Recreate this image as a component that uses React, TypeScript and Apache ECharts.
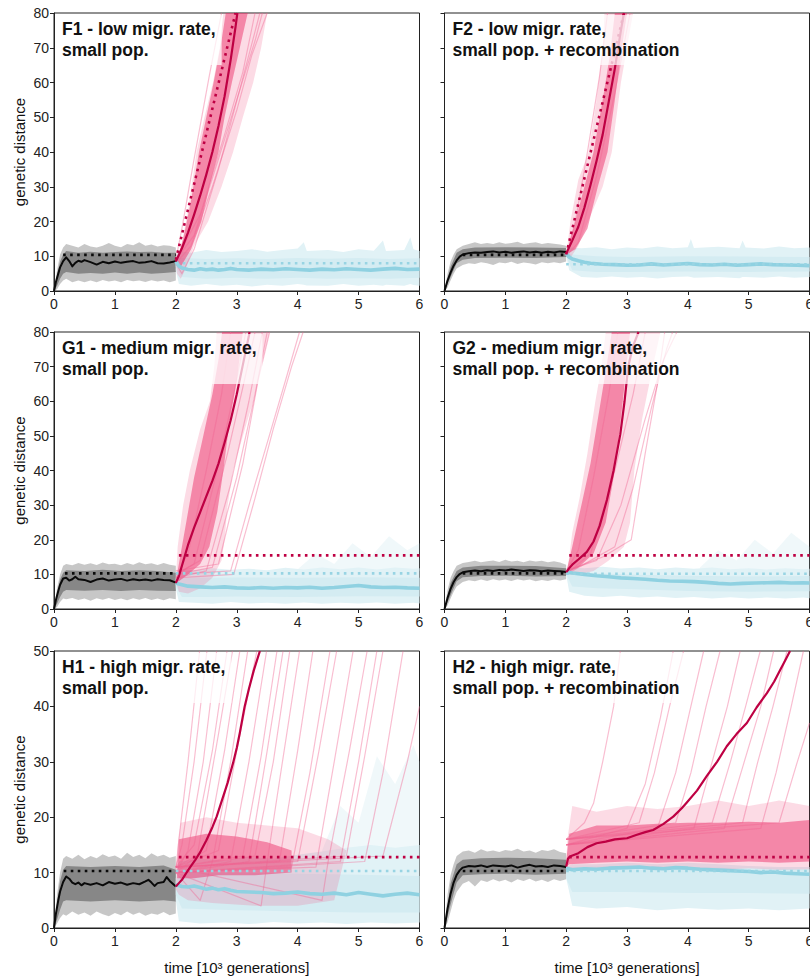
import { useEffect, useRef } from "react";
import * as echarts from "echarts";

type Pt = [number, number];
type Band = [number, number, number][];

// ---------------- F1 ----------------
const F1_title = "F1 - low migr. rate,\nsmall pop.";
const F1_blackMean: Pt[] = [[0,0],[0.03,2.5],[0.07,5],[0.1,6.8],[0.15,8.6],[0.2,9.7],[0.25,8.6],[0.3,7.1],[0.35,8.1],[0.4,8.7],[0.45,8.4],[0.5,8.9],[0.6,8.3],[0.7,7.6],[0.8,8.4],[0.9,8.0],[1.0,8.5],[1.1,8.1],[1.2,8.4],[1.3,8.6],[1.4,8.1],[1.5,8.3],[1.6,8.6],[1.7,8.0],[1.8,7.9],[1.9,8.2],[2.0,8.6]];
const F1_blackRef: Pt[] = [[0.15,10.4],[2,10.4]];
const F1_greyOuter: Band = [[0,0,0],[0.05,0.5,6],[0.1,2,10.5],[0.15,3,12.5],[0.2,3.5,13.5],[0.3,2.5,13],[0.4,3,12.5],[0.5,2.5,13.5],[0.6,3,12.8],[0.7,2.5,12.5],[0.8,3.2,13],[0.9,2.7,13.8],[1.0,3,13],[1.1,2.5,12.6],[1.2,3.2,13.5],[1.3,2.8,13.2],[1.4,3,14],[1.5,2.6,13],[1.6,3.1,13.4],[1.7,2.7,12.8],[1.8,3,13.2],[1.9,2.5,13],[2.0,3,12.5]];
const F1_greyInner: Band = [[0,0,0],[0.05,1.5,4.5],[0.1,3.5,8.5],[0.15,5,10.5],[0.2,5.5,11.5],[0.4,5,11],[0.6,5.2,11.3],[0.8,5,11],[1.0,5.3,11.2],[1.2,5,11.4],[1.4,5.3,11.2],[1.6,5,11.3],[1.8,5.2,11],[2.0,5.5,11]];
const F1_blueFaint: Band = [];
const F1_blueOuter: Band = [[2.0,6,10],[2.05,2,11.5],[2.25,1.5,11],[2.5,2,11.8],[2.75,1.5,11.2],[3.0,1.8,11.5],[3.25,1.3,12],[3.5,1.8,11.3],[3.75,1.5,11.8],[4.0,2,12.2],[4.1,1.8,14],[4.15,1.6,11.5],[4.5,1.5,11.8],[4.75,2,11.2],[5.0,1.5,12],[5.25,1.8,11.6],[5.4,1.5,14.5],[5.45,1.8,11.5],[5.75,1.5,11.8],[5.85,2,15.5],[5.9,1.7,12],[6.0,1.5,11.5]];
const F1_blueInner: Band = [[2.0,7,9.5],[2.1,4,9.5],[2.5,3.5,9.2],[3,3.8,9.4],[3.5,3.5,9.2],[4,3.8,9.5],[4.5,3.5,9.3],[5,3.7,9.5],[5.5,3.5,9.2],[6,3.8,9.4]];
const F1_cyanMean: Pt[] = [[2.0,8.5],[2.05,7.2],[2.1,6.6],[2.2,6.2],[2.3,6.0],[2.4,6.4],[2.5,6.1],[2.6,6.3],[2.7,6.0],[2.8,6.2],[2.9,6.5],[3.0,6.2],[3.2,6.0],[3.4,6.3],[3.6,6.1],[3.8,6.4],[4.0,6.2],[4.2,6.0],[4.4,6.3],[4.6,6.1],[4.8,6.4],[5.0,6.2],[5.2,6.0],[5.4,6.3],[5.6,6.5],[5.8,6.2],[6.0,6.3]];
const F1_blueRef: Pt[] = [[2.0,8],[6,8]];
const F1_pinkOuter: Pt[] = [[2.0,8],[2.1,14],[2.2,23],[2.34,40],[2.47,50],[2.61,60],[2.72,70],[2.78,80],[3.5,80],[3.4,70],[3.27,60],[3.1,50],[2.94,40],[2.75,30],[2.53,20],[2.3,13],[2.15,6],[2.08,3.5],[2.02,5]];
const F1_pinkCore: Pt[] = [[2.0,8],[2.12,15],[2.24,25],[2.38,40],[2.5,50],[2.62,60],[2.75,72],[2.82,80],[3.18,80],[3.05,70],[2.92,60],[2.8,50],[2.7,40],[2.55,30],[2.42,20],[2.25,12],[2.08,7]];
const F1_pinkTraces: Pt[][] = [
  [[2.0,9],[2.3,16],[2.7,38],[3.0,55],[3.3,72],[3.42,80]],
  [[2.0,8],[2.25,13],[2.6,30],[3.0,52],[3.25,68],[3.5,80]],
  [[2.0,9],[2.4,22],[2.8,45],[3.1,63],[3.3,80]],
  [[2.0,8],[2.1,5],[2.3,12],[2.7,35],[3.05,58],[3.38,80]],
  [[2.0,9],[2.1,18],[2.3,38],[2.55,62],[2.75,80]],
];
const F1_crimsonMean: Pt[] = [[2.0,8.5],[2.1,12.3],[2.2,16.8],[2.3,22],[2.4,27.5],[2.5,33.5],[2.6,40],[2.7,47.5],[2.8,56],[2.9,66.5],[2.98,76],[3.01,80]];
const F1_crimsonRef: Pt[] = [[2.0,9],[2.98,80]];

// ---------------- F2 ----------------
const F2_title = "F2 - low migr. rate,\nsmall pop. + recombination";
const F2_blackMean: Pt[] = [[0,0],[0.05,3],[0.1,5.3],[0.15,7.3],[0.2,8.8],[0.25,9.9],[0.3,10.5],[0.4,10.9],[0.5,11.1],[0.6,11.0],[0.7,11.2],[0.8,11.4],[0.9,11.1],[1.0,11.3],[1.1,11.0],[1.2,11.2],[1.3,11.4],[1.4,11.1],[1.5,11.3],[1.6,11.0],[1.7,11.3],[1.8,11.1],[1.9,11.4],[2.0,11.2]];
const F2_blackRef: Pt[] = [[0.3,10.4],[2,10.4]];
const F2_greyOuter: Band = [[0,0,0],[0.05,1,5],[0.1,3,8.5],[0.15,5,10.5],[0.2,6.5,12],[0.3,7.5,13],[0.4,8,13.5],[0.5,7.8,14],[0.6,8.3,13.5],[0.7,8,13.8],[0.8,7.5,13.5],[0.9,8.2,14],[1.0,8,13.6],[1.1,8.4,13.8],[1.2,7.8,14.2],[1.3,8.2,13.5],[1.4,8,13.8],[1.5,7.6,14],[1.6,8.3,13.5],[1.7,8,13.8],[1.8,8.3,13.6],[1.9,8,13.4],[2.0,8.5,13]];
const F2_greyInner: Band = [[0,0,0],[0.1,4,7],[0.2,8,11],[0.3,9,12],[0.5,9.5,12.5],[1,9.6,12.6],[1.5,9.5,12.5],[2,9.8,12.4]];
const F2_blueFaint: Band = [];
const F2_blueOuter: Band = [[2.0,10,11],[2.05,6,12.5],[2.25,4,12.3],[2.5,3.8,12.6],[2.75,4.2,12],[3.0,3.8,12.5],[3.25,4,12.2],[3.5,3.6,12.8],[3.75,4,12.3],[4.0,4.2,12.6],[4.05,4,15],[4.1,3.8,12.4],[4.5,4,12.7],[4.85,3.7,12.3],[4.9,4,14.5],[4.95,4,12.5],[5.25,3.8,12.2],[5.5,4.2,12.8],[5.75,3.8,12.3],[6,4,12.5]];
const F2_blueInner: Band = [[2.0,10,11],[2.1,6,10.5],[2.5,5.5,10],[3,5.5,9.8],[4,5.6,10],[5,5.5,9.9],[6,5.6,9.8]];
const F2_cyanMean: Pt[] = [[2.0,10.8],[2.05,9.8],[2.1,9.2],[2.2,8.7],[2.3,8.3],[2.4,8.0],[2.6,7.7],[2.8,7.6],[3.0,7.4],[3.2,7.5],[3.4,7.8],[3.6,7.5],[3.8,7.7],[4.0,7.9],[4.2,7.6],[4.4,7.5],[4.6,7.7],[4.8,7.4],[5.0,7.6],[5.2,7.8],[5.4,7.6],[5.6,7.5],[5.8,7.4],[6.0,7.3]];
const F2_blueRef: Pt[] = [[2,7.7],[6,7.7]];
const F2_pinkOuter: Pt[] = [[2.0,10],[2.07,20],[2.2,32],[2.37,40],[2.5,55],[2.6,70],[2.63,80],[3.1,80],[3.0,70],[2.9,60],[2.75,40],[2.6,30],[2.36,20],[2.2,13],[2.05,9]];
const F2_pinkCore: Pt[] = [[2.0,10.5],[2.15,20],[2.3,30],[2.45,40],[2.6,55],[2.72,68],[2.8,80],[3.0,80],[2.9,68],[2.8,55],[2.68,40],[2.52,30],[2.35,18],[2.15,12]];
const F2_pinkTraces: Pt[][] = [
  [[2,10],[2.2,14],[2.5,33],[2.8,57],[3.05,80]],
  [[2,10],[2.15,20],[2.35,40],[2.55,62],[2.68,80]],
];
const F2_crimsonMean: Pt[] = [[2.0,10.8],[2.1,14.5],[2.2,18.5],[2.3,24],[2.4,30.5],[2.5,37.5],[2.6,45],[2.7,54.5],[2.8,64],[2.9,75],[2.95,80]];
const F2_crimsonRef: Pt[] = [[2.0,10.5],[2.95,80]];

// ---------------- G1 ----------------
const G1_title = "G1 - medium migr. rate,\nsmall pop.";
const G1_blackMean: Pt[] = [[0,0],[0.03,2.5],[0.07,5.2],[0.1,7],[0.15,8.8],[0.2,9.0],[0.25,8.2],[0.3,8.6],[0.35,9.3],[0.4,8.6],[0.5,8.4],[0.6,7.8],[0.7,8.5],[0.8,8.8],[0.9,8.2],[1.0,8.5],[1.1,8.7],[1.2,8.2],[1.3,8.6],[1.4,8.3],[1.5,8.5],[1.6,8.2],[1.7,8.6],[1.8,8.4],[1.9,8.3],[2.0,7.6]];
const G1_blackRef: Pt[] = [[0.18,10.3],[2,10.3]];
const G1_greyOuter: Band = [[0,0,0],[0.05,0.6,6],[0.1,2,10],[0.15,3,12.5],[0.2,2.8,13],[0.3,3.2,12.6],[0.4,2.6,13.3],[0.5,3,12.8],[0.6,2.4,13.2],[0.7,3.1,12.7],[0.8,2.7,13.4],[0.9,3.2,12.9],[1.0,2.6,13.1],[1.1,3,12.6],[1.2,2.5,13.3],[1.3,3.1,12.8],[1.4,2.7,13.5],[1.5,3.2,12.9],[1.6,2.6,13.2],[1.7,3,12.7],[1.8,2.5,13.3],[1.9,3.1,12.8],[2.0,2.8,12.5]];
const G1_greyInner: Band = [[0,0,0],[0.05,1.5,4.5],[0.1,3.5,8.5],[0.15,5,10.5],[0.2,5.5,11.2],[0.5,5.3,11],[0.8,5.5,11.3],[1.1,5.2,11],[1.4,5.5,11.2],[1.7,5.3,11],[2.0,5.2,10.5]];
const G1_blueFaint: Band = [[4.0,11,11.5],[4.3,11,16],[4.6,11,13],[4.9,11,19],[5.2,11,15],[5.5,11,21],[5.8,11,17],[6,11,19]];
const G1_blueOuter: Band = [[2.0,6,9],[2.05,2,11.5],[2.3,1.8,11.2],[2.6,1.5,11.8],[2.9,2,11.3],[3.2,1.6,11.6],[3.5,1.8,11.2],[3.8,1.5,11.9],[4.1,1.9,11.4],[4.4,1.5,12],[4.7,1.8,11.5],[5.0,1.6,12],[5.3,1.9,11.4],[5.6,1.5,12],[5.9,1.8,11.6],[6,1.6,11.8]];
const G1_blueInner: Band = [[2,6.5,8.5],[2.1,3.5,9],[2.5,3.5,9],[3,3.6,9.1],[4,3.5,9],[5,3.7,9.2],[6,3.6,9]];
const G1_cyanMean: Pt[] = [[2.0,7.5],[2.05,7.2],[2.1,7.0],[2.2,6.6],[2.4,6.4],[2.6,6.2],[2.8,6.4],[3.0,6.1],[3.2,6.0],[3.4,6.2],[3.6,6.0],[3.8,6.2],[4.0,6.1],[4.2,6.3],[4.4,6.0],[4.6,6.2],[4.8,6.5],[5.0,6.8],[5.2,6.4],[5.4,6.2],[5.6,6.3],[5.8,6.1],[6.0,6.0]];
const G1_blueRef: Pt[] = [[2.0,10.3],[6,10.3]];
const G1_pinkOuter: Pt[] = [[2.0,8],[2.03,18],[2.12,30],[2.23,40],[2.4,52],[2.56,60],[2.63,70],[2.67,80],[3.54,80],[3.4,70],[3.27,60],[3.1,50],[2.94,40],[2.85,30],[2.8,20],[2.75,14],[2.6,9],[2.4,6],[2.2,4.5],[2.05,5]];
const G1_pinkCore: Pt[] = [[2.0,8],[2.08,16],[2.18,26],[2.3,38],[2.45,50],[2.6,62],[2.7,72],[2.76,80],[3.1,80],[3.0,66],[2.88,54],[2.78,40],[2.68,28],[2.55,18],[2.4,13],[2.2,10],[2.05,8]];
const G1_pinkTraces: Pt[][] = [
  [[2.0,10],[2.6,12],[3.0,38],[3.3,62],[3.5,80]],
  [[2.0,9],[2.5,11],[2.9,36],[3.2,60],[3.42,80]],
  [[2.0,10],[2.9,11],[3.2,30],[3.5,48],[3.8,66],[4.03,80]],
  [[2.0,9],[2.95,10],[3.3,32],[3.6,52],[3.9,70],[4.09,80]],
  [[2.0,11],[2.7,13],[3.1,42],[3.35,66],[3.54,80]],
  [[2.0,10],[2.4,14],[2.85,45],[3.1,64],[3.3,80]],
  [[2.0,9],[2.2,16],[2.5,40],[2.75,62],[2.9,80]],
  [[2.0,10],[2.3,13],[2.65,38],[2.95,62],[3.15,80]],
];
const G1_crimsonMean: Pt[] = [[2.0,7.5],[2.05,9.5],[2.1,12.5],[2.2,18.5],[2.3,23.5],[2.4,28],[2.5,32.5],[2.6,37],[2.7,42],[2.8,48],[2.9,54.5],[3.0,62],[3.1,70.5],[3.2,79],[3.21,80]];
const G1_crimsonRef: Pt[] = [[2.05,15.5],[6,15.5]];

// ---------------- G2 ----------------
const G2_title = "G2 - medium migr. rate,\nsmall pop. + recombination";
const G2_blackMean: Pt[] = [[0,0],[0.05,3.2],[0.1,5.8],[0.15,7.8],[0.2,9.2],[0.25,10.1],[0.3,10.6],[0.4,10.9],[0.5,11.1],[0.6,10.9],[0.7,11.2],[0.8,11.0],[0.9,11.3],[1.0,11.1],[1.1,11.4],[1.2,11.2],[1.3,11.0],[1.4,11.2],[1.5,11.1],[1.6,10.9],[1.7,11.1],[1.8,11.0],[1.9,10.9],[2.0,10.7]];
const G2_blackRef: Pt[] = [[0.3,10.3],[2,10.3]];
const G2_greyOuter: Band = [[0,0,0],[0.05,1,5.5],[0.1,3,9],[0.15,5,11],[0.2,6.5,12.5],[0.3,7.8,13.3],[0.4,8.3,13.6],[0.5,8,13.9],[0.6,8.5,13.5],[0.7,8.1,13.8],[0.8,8.6,14],[0.9,8.2,13.6],[1.0,8.5,14.2],[1.1,8.1,13.7],[1.2,8.6,13.9],[1.3,8.2,13.5],[1.4,8.5,14],[1.5,8,13.7],[1.6,8.4,13.9],[1.7,8.1,13.5],[1.8,8.5,13.8],[1.9,8.2,13.4],[2.0,8.6,12.8]];
const G2_greyInner: Band = [[0,0,0],[0.1,4,7.5],[0.2,8,11],[0.3,9.2,12],[0.6,9.5,12.5],[1,9.6,12.5],[1.5,9.4,12.4],[2,9.5,11.8]];
const G2_blueFaint: Band = [[4.2,11,12],[4.5,11,17],[4.8,11,14],[5.1,11,20],[5.4,11,16],[5.7,11,22],[6,11,18]];
const G2_blueOuter: Band = [[2.0,10,11],[2.05,5,12],[2.3,3.8,11.8],[2.6,3.5,12.2],[2.9,3.8,11.7],[3.2,3.3,12],[3.5,3.6,11.5],[3.8,3.2,12],[4.1,3.5,11.6],[4.4,3,12],[4.7,3.4,11.5],[5.0,3,11.8],[5.3,3.3,11.4],[5.6,3,11.8],[5.9,3.3,11.5],[6,3.1,11.6]];
const G2_blueInner: Band = [[2,10,11],[2.1,6.5,10.8],[2.5,6,10.3],[3,5.8,10],[4,5.2,9.6],[5,5,9.4],[6,5.1,9.5]];
const G2_cyanMean: Pt[] = [[2.0,10.7],[2.1,10.4],[2.3,10.0],[2.5,9.6],[2.7,9.3],[2.9,9.0],[3.1,8.8],[3.3,8.6],[3.5,8.3],[3.7,8.1],[3.9,8.0],[4.1,7.9],[4.3,7.7],[4.5,7.4],[4.7,7.2],[4.9,7.4],[5.1,7.5],[5.3,7.6],[5.5,7.7],[5.7,7.5],[5.9,7.6],[6.0,7.5]];
const G2_blueRef: Pt[] = [[2,10.2],[6,10.2]];
const G2_pinkOuter: Pt[] = [[2.0,10],[2.05,15],[2.1,22],[2.22,32],[2.35,45],[2.48,60],[2.58,70],[2.65,80],[3.55,80],[3.4,68],[3.25,55],[3.12,40],[3.05,25],[2.95,18],[2.7,14],[2.45,11],[2.2,10]];
const G2_pinkCore: Pt[] = [[2.0,10.5],[2.1,18],[2.25,30],[2.4,42],[2.55,58],[2.68,72],[2.75,80],[3.05,80],[2.98,68],[2.88,52],[2.78,38],[2.65,25],[2.45,16],[2.2,12]];
const G2_pinkTraces: Pt[][] = [
  [[2,11],[2.6,15],[3.07,20],[3.3,45],[3.5,65],[3.62,80]],
  [[2,10],[2.8,18],[3.1,35],[3.4,58],[3.65,75],[3.75,80]],
  [[2,11],[2.5,14],[2.9,30],[3.3,55],[3.6,72],[3.82,80]],
  [[2,10],[2.4,16],[2.8,40],[3.1,62],[3.3,80]],
  [[2,11],[2.2,17],[2.45,38],[2.7,62],[2.85,80]],
];
const G2_crimsonMean: Pt[] = [[2.0,10.5],[2.05,11.8],[2.1,12.8],[2.2,14.3],[2.34,16.5],[2.45,19.5],[2.55,24],[2.67,31.5],[2.78,40],[2.89,50.5],[2.96,60],[3.02,70],[3.1,76],[3.19,80]];
const G2_crimsonRef: Pt[] = [[2.05,15.5],[6,15.5]];

// ---------------- H1 ----------------
const H1_title = "H1 - high migr. rate,\nsmall pop.";
const H1_blackMean: Pt[] = [[0,0],[0.03,2.5],[0.07,5],[0.1,6.6],[0.15,8.3],[0.2,9.3],[0.25,8.9],[0.3,8.2],[0.35,7.9],[0.4,8.2],[0.45,7.7],[0.5,8.1],[0.6,7.8],[0.7,8.1],[0.8,7.7],[0.9,8.3],[1.0,8.0],[1.1,8.2],[1.2,7.8],[1.3,8.1],[1.4,7.9],[1.5,8.4],[1.55,8.7],[1.6,8.2],[1.65,7.6],[1.7,8.1],[1.8,8.3],[1.85,9.2],[1.9,8.5],[1.95,8.0],[2.0,7.5]];
const H1_blackRef: Pt[] = [[0.16,10.3],[2,10.3]];
const H1_greyOuter: Band = [[0,0,0],[0.05,0.8,6],[0.1,1.8,10],[0.15,2.5,12.5],[0.2,2.2,13],[0.3,3,12.5],[0.4,2.4,13.2],[0.5,2.8,12.4],[0.6,2.2,13],[0.7,3,12.6],[0.8,2.5,13.3],[0.9,2.1,12.8],[1.0,2.7,13.1],[1.1,2.3,12.5],[1.2,3,13.6],[1.3,2.4,12.8],[1.4,2.8,13.2],[1.5,2.2,12.6],[1.6,2.6,13.5],[1.7,2.4,12.9],[1.8,2.9,13.2],[1.9,2.3,12.7],[2.0,2.6,13]];
const H1_greyInner: Band = [[0,0,0],[0.05,1.5,4.5],[0.1,3.3,8.5],[0.15,4.8,10.5],[0.2,5,11.2],[0.6,4.8,11],[1.0,5,11.2],[1.4,4.8,11],[1.8,5,11.3],[2.0,4.8,10.5]];
const H1_blueFaint: Band = [[4.4,13,14],[4.7,13,22],[5.0,13,19],[5.3,13,31],[5.6,13,26],[5.9,13,33],[6,13,30]];
const H1_blueOuter: Band = [[2,5,9],[2.05,1.2,12],[2.4,0.8,12.5],[2.8,1,12.2],[3.2,0.7,12.8],[3.6,1.1,12.5],[4,0.8,13.2],[4.4,1,13.8],[4.8,0.7,14.5],[5.2,1,15],[5.6,0.8,14.5],[6,1,15]];
const H1_blueInner: Band = [[2,6,8.5],[2.1,3.5,10],[3,3.2,10],[4,3,9.8],[5,2.8,9.6],[6,2.8,9.4]];
const H1_cyanMean: Pt[] = [[2.0,7.8],[2.1,7.5],[2.2,7.4],[2.3,7.6],[2.4,7.3],[2.5,7.0],[2.6,7.2],[2.7,6.9],[2.8,7.1],[2.9,6.8],[3.0,6.6],[3.2,6.5],[3.4,6.4],[3.6,6.2],[3.8,6.3],[4.0,6.5],[4.2,6.2],[4.4,6.1],[4.6,6.3],[4.8,6.0],[5.0,6.4],[5.2,6.1],[5.4,5.8],[5.6,6.1],[5.8,6.3],[6.0,6.0]];
const H1_blueRef: Pt[] = [[2,10.3],[6,10.3]];
const H1_pinkOuter: Pt[] = [[2.0,7],[2.02,14],[2.08,19],[2.5,20],[3,19],[3.5,18.5],[4,18],[4.5,16],[4.8,14],[4.6,5],[4,4],[3.3,4],[2.6,4.5],[2.2,5],[2.05,6]];
const H1_pinkCore: Pt[] = [[2.02,9],[2.05,16],[2.5,17],[3,16.5],[3.5,15.5],[3.9,14],[3.9,10],[3.3,9.5],[2.7,9.5],[2.3,9]];
const H1_pinkTraces: Pt[][] = [
  [[2,10],[2.05,16],[2.2,30],[2.39,50]],
  [[2,11],[2.1,15],[2.3,30],[2.51,50]],
  [[2,10],[2.2,14],[2.45,30],[2.67,50]],
  [[2,11],[2.3,15],[2.6,32],[2.84,50]],
  [[2,10],[2.35,13],[2.7,35],[2.93,50]],
  [[2,11],[2.5,14],[2.8,32],[3.05,50]],
  [[2,10],[2.4,5],[2.6,12],[2.9,30],[3.18,50]],
  [[2,11],[2.7,14],[3.0,32],[3.33,50]],
  [[2,10],[2.9,12],[3.2,30],[3.49,50]],
  [[2,11],[3.1,13],[3.4,31],[3.66,50]],
  [[2,10],[3.2,12],[3.5,32],[3.76,50]],
  [[2,11],[3.3,13],[3.6,30],[3.87,50]],
  [[2,10],[3.4,4],[3.5,12],[3.75,30],[4.03,50]],
  [[2,11],[3.7,12],[4.0,32],[4.25,50]],
  [[2,10],[3.9,11],[4.2,28],[4.53,50]],
  [[2,11],[4.0,12],[4.35,32],[4.64,50]],
  [[2,10],[4.3,11],[4.6,30],[4.91,50]],
  [[2,11],[4.4,5],[4.5,12],[4.85,32],[5.14,50]],
  [[2,10],[4.7,12],[5.0,30],[5.30,50]],
  [[2,11],[4.8,13],[5.1,31],[5.40,50]],
  [[2,10],[5.1,12],[5.4,28],[5.73,50]],
  [[2,11],[5.4,13],[5.8,30],[6,40]],
];
const H1_crimsonMean: Pt[] = [[2.0,7.5],[2.05,8.1],[2.1,8.7],[2.17,9.9],[2.25,11.2],[2.32,12.3],[2.39,13.5],[2.5,15.8],[2.6,18.2],[2.67,20.1],[2.75,22.8],[2.85,26.2],[2.94,29.8],[3.0,32.5],[3.05,35.2],[3.13,40],[3.2,43.2],[3.28,46.5],[3.38,50]];
const H1_crimsonRef: Pt[] = [[2.05,12.8],[6,12.8]];

// ---------------- H2 ----------------
const H2_title = "H2 - high migr. rate,\nsmall pop. + recombination";
const H2_blackMean: Pt[] = [[0,0],[0.05,3.5],[0.1,6.2],[0.15,8.2],[0.2,9.6],[0.25,10.4],[0.3,10.9],[0.4,11.2],[0.5,11.1],[0.6,11.3],[0.7,11.0],[0.8,11.3],[0.9,11.2],[1.0,11.1],[1.1,11.3],[1.2,10.9],[1.3,11.2],[1.4,11.4],[1.5,11.1],[1.6,11.2],[1.7,11.0],[1.8,11.3],[1.9,11.2],[2.0,11.0]];
const H2_blackRef: Pt[] = [[0.3,10.3],[2,10.3]];
const H2_greyOuter: Band = [[0,0,0],[0.05,1,6],[0.1,3,9.5],[0.15,5,11.5],[0.2,6.5,13],[0.3,8,13.8],[0.4,8.5,14],[0.5,7.5,13.6],[0.6,8.6,14.2],[0.7,8.3,13.8],[0.8,8.8,14],[0.9,8.4,13.7],[1.0,8.7,14.1],[1.1,8.2,13.9],[1.2,8.8,14.3],[1.3,8.5,13.8],[1.4,8.9,14],[1.5,8.4,13.6],[1.6,8.7,14.1],[1.7,8.3,13.9],[1.8,8.8,14.2],[1.9,8.5,13.7],[2.0,8.8,13.5]];
const H2_greyInner: Band = [[0,0,0],[0.1,4.2,8],[0.2,8.2,11.5],[0.3,9.5,12.3],[0.6,9.7,12.6],[1,9.8,12.7],[1.5,9.6,12.6],[2,9.8,12.3]];
const H2_blueFaint: Band = [];
const H2_blueOuter: Band = [[2.0,9,11],[2.1,4,11.5],[2.5,3.5,11.5],[3,3.8,11.8],[3.5,3.2,11.5],[4,3.6,11.8],[4.5,3.3,11.5],[5,3.5,11.2],[5.5,3.2,11],[6,3.5,11]];
const H2_blueInner: Band = [[2,9,11],[2.1,6.5,11],[3,6.5,11.2],[4,6.3,11],[5,6.3,10.8],[6,6.2,10.6]];
const H2_cyanMean: Pt[] = [[2.0,10.8],[2.1,10.5],[2.3,10.7],[2.5,10.6],[2.7,10.8],[3.0,10.9],[3.2,11.0],[3.4,10.8],[3.6,10.7],[3.8,10.9],[4.0,10.8],[4.2,10.6],[4.4,10.5],[4.6,10.4],[4.8,10.3],[5.0,10.2],[5.2,10.0],[5.4,10.1],[5.6,9.9],[5.8,9.8],[6.0,9.7]];
const H2_blueRef: Pt[] = [[2,10.3],[6,10.3]];
const H2_pinkOuterBand: Band = [[2.0,11,11.5],[2.02,11,16],[2.1,10.8,22],[2.5,10.6,21],[3.0,10.8,22],[3.5,10.5,21.5],[4.0,10.8,22],[4.5,10.5,23],[5.0,10.8,22],[5.5,10.5,23],[6.0,10.6,22]];
const H2_pinkCoreBand: Band = [[2.0,11,12],[2.05,11.5,17],[2.5,11.8,18.5],[3,12,18.5],[3.5,11.8,18.8],[4,12,19],[4.5,11.8,19],[5,12,19.2],[5.5,11.8,19],[6,12,19.5]];
const H2_pinkTraces: Pt[][] = [
  [[2.0,16],[2.3,19],[2.45,22.5],[2.6,30],[2.78,40],[2.89,50]],
  [[2.0,15],[3.0,18],[3.3,26],[3.55,38],[3.76,50]],
  [[2.0,16],[3.2,19],[3.45,28],[3.7,40],[3.93,50]],
  [[2.0,15],[3.5,18],[3.8,28],[4.05,40],[4.26,50]],
  [[2.0,16],[3.8,19],[4.05,28],[4.3,40],[4.53,50]],
  [[2.0,15],[4.1,18],[4.4,30],[4.65,40],[4.86,50]],
  [[2.0,16],[4.4,19],[4.7,30],[4.95,40],[5.19,50]],
  [[2.0,15],[4.6,18],[4.9,29],[5.2,40],[5.41,50]],
  [[2.0,16],[4.9,19],[5.15,30],[5.4,40],[5.63,50]],
  [[2.0,15],[5.2,18],[5.45,28],[5.7,40],[5.9,50]],
  [[2.0,16],[5.5,19],[5.8,30],[6.0,37]],
];
const H2_crimsonMean: Pt[] = [[2.0,11.1],[2.03,12.5],[2.06,12.9],[2.2,13.5],[2.35,14.6],[2.5,15.3],[2.65,15.6],[2.8,16.0],[3.0,16.2],[3.15,16.8],[3.3,17.3],[3.43,17.7],[3.6,18.8],[3.76,20.1],[3.9,21.6],[3.98,22.6],[4.15,24.8],[4.31,27.4],[4.48,30],[4.64,32.8],[4.8,35],[4.97,37],[5.13,39.8],[5.3,42.4],[5.42,44.5],[5.52,46.6],[5.6,48.3],[5.68,50]];
const H2_crimsonRef: Pt[] = [[2.05,12.8],[6,12.8]];

// axis ticks and names
const X_MAX = 6;
const Y_MAX_ROWS = [80, 80, 50];
const X_NAME = "time [10³ generations]";
const Y_NAME = "genetic distance";

// ---------------- layout & style ----------------
const FONT = '"Liberation Sans", Arial, Helvetica, sans-serif';
const COLS = [{ left: 54, width: 365.5 }, { left: 444.5, width: 365 }];
const ROWS = [{ top: 13, height: 278 }, { top: 332, height: 277 }, { top: 651, height: 277 }];
const C = {
  greyOuter: "rgba(0,0,0,0.22)",
  greyInner: "rgba(0,0,0,0.32)",
  black: "#0a0a0a",
  blueFaint: "rgba(205,232,240,0.3)",
  blueOuter: "#e1f2f6",
  blueInner: "#d4ecf2",
  cyan: "#8fd1e1",
  blueDot: "#98d4e3",
  pinkOuter: "rgba(240,90,135,0.22)",
  pinkCore: "rgba(236,40,100,0.47)",
  pinkTrace: "rgba(240,100,145,0.42)",
  crimson: "#be0043",
};

function bandToPoly(b: Band): Pt[] {
  const lo = b.map((r) => [r[0], r[1]] as Pt);
  const hi = b.slice().reverse().map((r) => [r[0], r[2]] as Pt);
  return lo.concat(hi);
}

const PANELS = [
  { title: F1_title, row: 0, col: 0, greyOuter: F1_greyOuter, greyInner: F1_greyInner, blackMean: F1_blackMean, blackRef: F1_blackRef, blueFaint: F1_blueFaint, blueOuter: F1_blueOuter, blueInner: F1_blueInner, cyanMean: F1_cyanMean, blueRef: F1_blueRef, pinkOuter: F1_pinkOuter, pinkCore: F1_pinkCore, pinkTraces: F1_pinkTraces, crimsonMean: F1_crimsonMean, crimsonRef: F1_crimsonRef },
  { title: F2_title, row: 0, col: 1, greyOuter: F2_greyOuter, greyInner: F2_greyInner, blackMean: F2_blackMean, blackRef: F2_blackRef, blueFaint: F2_blueFaint, blueOuter: F2_blueOuter, blueInner: F2_blueInner, cyanMean: F2_cyanMean, blueRef: F2_blueRef, pinkOuter: F2_pinkOuter, pinkCore: F2_pinkCore, pinkTraces: F2_pinkTraces, crimsonMean: F2_crimsonMean, crimsonRef: F2_crimsonRef },
  { title: G1_title, row: 1, col: 0, greyOuter: G1_greyOuter, greyInner: G1_greyInner, blackMean: G1_blackMean, blackRef: G1_blackRef, blueFaint: G1_blueFaint, blueOuter: G1_blueOuter, blueInner: G1_blueInner, cyanMean: G1_cyanMean, blueRef: G1_blueRef, pinkOuter: G1_pinkOuter, pinkCore: G1_pinkCore, pinkTraces: G1_pinkTraces, crimsonMean: G1_crimsonMean, crimsonRef: G1_crimsonRef },
  { title: G2_title, row: 1, col: 1, greyOuter: G2_greyOuter, greyInner: G2_greyInner, blackMean: G2_blackMean, blackRef: G2_blackRef, blueFaint: G2_blueFaint, blueOuter: G2_blueOuter, blueInner: G2_blueInner, cyanMean: G2_cyanMean, blueRef: G2_blueRef, pinkOuter: G2_pinkOuter, pinkCore: G2_pinkCore, pinkTraces: G2_pinkTraces, crimsonMean: G2_crimsonMean, crimsonRef: G2_crimsonRef },
  { title: H1_title, row: 2, col: 0, greyOuter: H1_greyOuter, greyInner: H1_greyInner, blackMean: H1_blackMean, blackRef: H1_blackRef, blueFaint: H1_blueFaint, blueOuter: H1_blueOuter, blueInner: H1_blueInner, cyanMean: H1_cyanMean, blueRef: H1_blueRef, pinkOuter: H1_pinkOuter, pinkCore: H1_pinkCore, pinkTraces: H1_pinkTraces, crimsonMean: H1_crimsonMean, crimsonRef: H1_crimsonRef },
  { title: H2_title, row: 2, col: 1, greyOuter: H2_greyOuter, greyInner: H2_greyInner, blackMean: H2_blackMean, blackRef: H2_blackRef, blueFaint: H2_blueFaint, blueOuter: H2_blueOuter, blueInner: H2_blueInner, cyanMean: H2_cyanMean, blueRef: H2_blueRef, pinkOuter: bandToPoly(H2_pinkOuterBand), pinkCore: bandToPoly(H2_pinkCoreBand), pinkTraces: H2_pinkTraces, crimsonMean: H2_crimsonMean, crimsonRef: H2_crimsonRef },
];

function polySeries(idx: number, pts: Pt[], fill: string) {
  return {
    type: "custom",
    xAxisIndex: idx,
    yAxisIndex: idx,
    silent: true,
    clip: true,
    data: [[0, 0]],
    renderItem: (_p: any, api: any) => ({
      type: "polygon",
      shape: { points: pts.map((p) => api.coord(p)) },
      style: { fill, stroke: null },
    }),
  };
}

function lineSeries(idx: number, pts: Pt[], color: string, width: number, dash: any = "solid") {
  return {
    type: "line",
    xAxisIndex: idx,
    yAxisIndex: idx,
    data: pts,
    symbol: "none",
    showSymbol: false,
    silent: true,
    clip: true,
    lineStyle: { color, width, type: dash, cap: "butt", join: "round" },
    emphasis: { disabled: true },
  };
}

function buildOption() {
  const grid: any[] = [];
  const xAxis: any[] = [];
  const yAxis: any[] = [];
  const series: any[] = [];
  const graphic: any[] = [];
  const DOT = [2.6, 4.4];

  PANELS.forEach((p, i) => {
    const c = COLS[p.col];
    const r = ROWS[p.row];
    grid.push({
      left: c.left, top: r.top, width: c.width, height: r.height,
      containLabel: false, outerBoundsMode: "none",
      show: true, borderColor: "#222", borderWidth: 1, backgroundColor: "transparent",
    });
    xAxis.push({
      gridIndex: i, type: "value", min: 0, max: X_MAX, interval: 1,
      axisLine: { show: true, onZero: false, lineStyle: { color: "#222", width: 1 } },
      axisTick: { show: true, length: 4, lineStyle: { color: "#222", width: 1 } },
      axisLabel: { show: true, fontSize: 14, color: "#222", margin: 6, fontFamily: FONT },
      splitLine: { show: false },
    });
    yAxis.push({
      gridIndex: i, type: "value", min: 0, max: Y_MAX_ROWS[p.row], interval: 10,
      axisLine: { show: true, onZero: false, lineStyle: { color: "#222", width: 1 } },
      axisTick: { show: true, length: 4, lineStyle: { color: "#222", width: 1 } },
      axisLabel: { show: p.col === 0, fontSize: 14, color: "#222", margin: 5, fontFamily: FONT },
      splitLine: { show: false },
    });

    series.push(polySeries(i, bandToPoly(p.greyOuter), C.greyOuter));
    series.push(polySeries(i, bandToPoly(p.greyInner), C.greyInner));
    if (p.blueFaint.length) series.push(polySeries(i, bandToPoly(p.blueFaint), C.blueFaint));
    series.push(polySeries(i, bandToPoly(p.blueOuter), C.blueOuter));
    series.push(polySeries(i, bandToPoly(p.blueInner), C.blueInner));
    series.push(polySeries(i, p.pinkOuter, C.pinkOuter));
    series.push(polySeries(i, p.pinkCore, C.pinkCore));
    p.pinkTraces.forEach((t) => series.push(lineSeries(i, t, C.pinkTrace, 1.2)));
    series.push(lineSeries(i, p.blackMean, C.black, 2));
    series.push(lineSeries(i, p.blackRef, C.black, 2.6, DOT));
    series.push(lineSeries(i, p.cyanMean, C.cyan, 3.6));
    series.push(lineSeries(i, p.crimsonMean, C.crimson, 2.2));
    series.push(lineSeries(i, p.blueRef, C.blueDot, 2.6, DOT));
    series.push(lineSeries(i, p.crimsonRef, C.crimson, 2.6, DOT));

    graphic.push({
      type: "text", z: 100, x: c.left + 2, y: r.top + 2,
      style: {
        text: p.title, fontSize: 17.5, fontWeight: "bold", fontFamily: FONT, fill: "#111",
        lineHeight: 20.5, backgroundColor: "rgba(255,255,255,0.72)", padding: [4, 6, 5, 6],
        align: "left", verticalAlign: "top", textAlign: "left", textVerticalAlign: "top",
      },
    });
  });

  ROWS.forEach((r) => {
    graphic.push({
      type: "text", z: 100, x: 19, y: r.top + r.height / 2, rotation: Math.PI / 2,
      style: {
        text: Y_NAME, fontSize: 15, fontFamily: FONT, fill: "#111",
        align: "center", verticalAlign: "middle", textAlign: "center", textVerticalAlign: "middle",
      },
    });
  });
  COLS.forEach((c) => {
    graphic.push({
      type: "text", z: 100, x: c.left + c.width / 2, y: 967,
      style: {
        text: X_NAME, fontSize: 15, fontFamily: FONT, fill: "#111",
        align: "center", verticalAlign: "middle", textAlign: "center", textVerticalAlign: "middle",
      },
    });
  });

  return { animation: false, backgroundColor: "#ffffff", grid, xAxis, yAxis, series, graphic };
}

export default function App() {
  const ref = useRef<HTMLDivElement>(null);
  useEffect(() => {
    if (!ref.current) return;
    const chart = echarts.init(ref.current, undefined, { renderer: "svg" });
    chart.setOption(buildOption() as any);
    return () => chart.dispose();
  }, []);
  return (
    <div
      ref={ref}
      style={{ position: "absolute", left: 0, top: 0, width: 810, height: 979, background: "#fff" }}
    />
  );
}
